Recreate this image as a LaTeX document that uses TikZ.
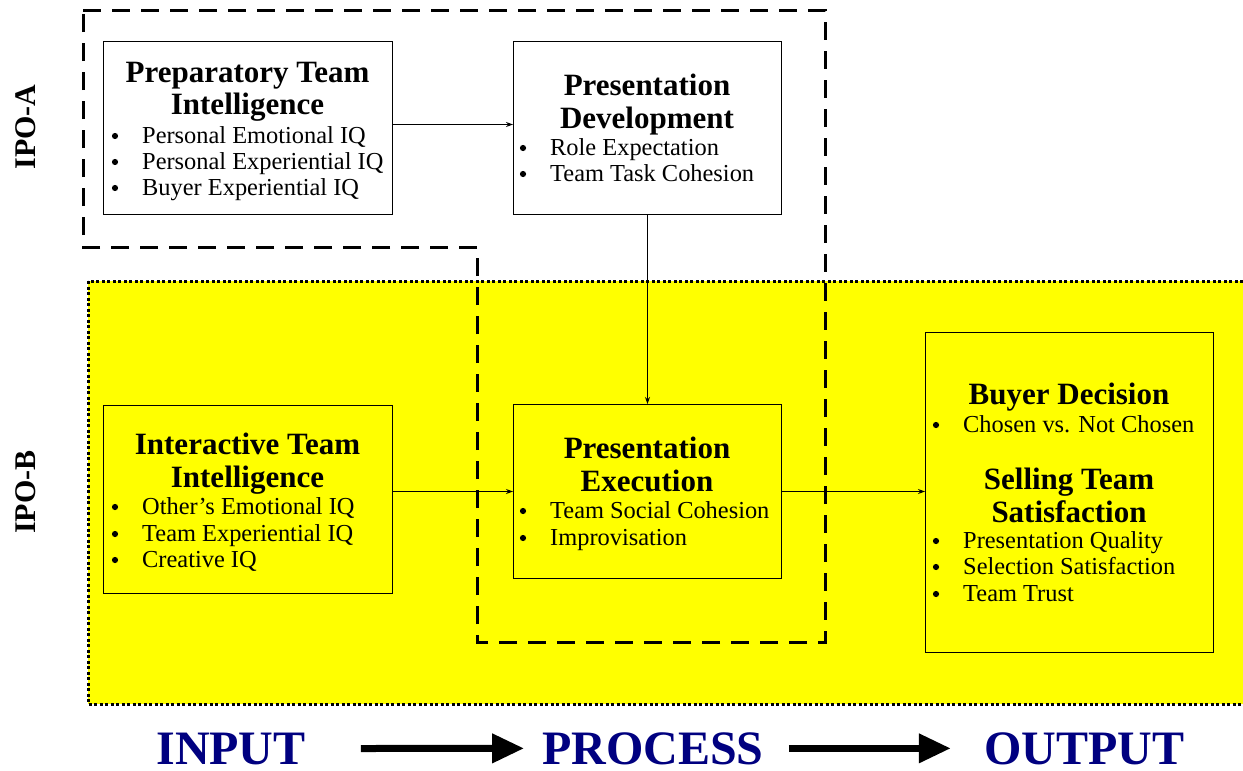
\documentclass[tikz,border=0pt]{standalone}
\usepackage{fontspec}
\setmainfont{Liberation Serif}
\usetikzlibrary{arrows.meta}
\definecolor{ipoNavy}{RGB}{0,0,128}
\definecolor{ipoYellow}{RGB}{255,255,0}
\newcommand\myitem[4]{% name, bullet x, baseline y, text
  \fill (#2,#3-7) circle (3.1);
  \node[itemtxt] (#1) at (#2+27,#3) {#4};}
\begin{document}
\begin{tikzpicture}[x=1pt,y=-1pt,
  boxnode/.style={draw, line width=1pt, inner sep=0, anchor=north west, minimum width=#1},
  headtxt/.style={font=\fontsize{31}{33}\selectfont\bfseries, anchor=base, inner sep=0},
  itemtxt/.style={font=\fontsize{24.4}{26}\selectfont, anchor=base west, inner sep=0},
  conn/.style={line width=1pt, -{Stealth[length=7pt,width=5pt]}},
  bigarrow/.style={line width=7pt, -{Triangle[length=32pt,width=28pt]}},
  bigtxt/.style={font=\fontsize{48}{50}\selectfont\bfseries, text=ipoNavy, inner sep=0},
  sidetxt/.style={font=\fontsize{30}{32}\selectfont\bfseries, rotate=90, inner sep=0}
]
\useasboundingbox (0,0) rectangle (1243,771);
\fill[white] (0,0) rectangle (1243,771);

% IPO-B yellow region
\path[fill=ipoYellow, draw=black, line width=3pt, dash pattern=on 3pt off 2.5pt]
  (88,281) rectangle (1260,704);

% IPO-A dashed boundary
\draw[line width=3pt, dash pattern=on 18pt off 11pt]
  (83,10) -- (825,10) -- (825,642) -- (477,642) -- (477,247) -- (83,247) -- cycle;

% boxes
\node[boxnode=289pt, minimum height=173pt, fill=white] (pti) at (103,41) {};
\node[boxnode=268pt, minimum height=173pt, fill=white] (pd) at (513,41) {};
\node[boxnode=289pt, minimum height=188pt, fill=ipoYellow] (iti) at (103,405) {};
\node[boxnode=268pt, minimum height=174pt, fill=ipoYellow] (pe) at (513,404) {};
\node[boxnode=288pt, minimum height=320pt, fill=ipoYellow] (outbox) at (925,332) {};

% side labels
\node[sidetxt] (ipoa) at (26,127) {IPO-A};
\node[sidetxt] (ipob) at (26,492) {IPO-B};

% Preparatory Team Intelligence
\node[headtxt] (ptih1) at (247.5,82) {Preparatory Team};
\node[headtxt] (ptih2) at (247.5,114) {Intelligence};
\myitem{ptia}{115}{143}{Personal Emotional IQ}
\myitem{ptib}{115}{169}{Personal Experiential IQ}
\myitem{ptic}{115}{195}{Buyer Experiential IQ}

% Presentation Development
\node[headtxt] (pdh1) at (647,95) {Presentation};
\node[headtxt] (pdh2) at (647,128) {Development};
\myitem{pda}{523}{155}{Role Expectation}
\myitem{pdb}{523}{181}{Team Task Cohesion}

% Interactive Team Intelligence
\node[headtxt] (itih1) at (247.5,454) {Interactive Team};
\node[headtxt] (itih2) at (247.5,487) {Intelligence};
\myitem{itia}{115}{514}{Other’s Emotional IQ}
\myitem{itib}{115}{541}{Team Experiential IQ}
\myitem{itic}{115}{567}{Creative IQ}

% Presentation Execution
\node[headtxt] (peh1) at (647,458) {Presentation};
\node[headtxt] (peh2) at (647,491) {Execution};
\myitem{pea}{523}{518}{Team Social Cohesion}
\myitem{peb}{523}{545}{Improvisation}

% Output box
\node[headtxt] (outh1) at (1069,404) {Buyer Decision};
\myitem{outa}{936}{432}{Chosen vs. Not Chosen}
\node[headtxt] (outh2) at (1069,489) {Selling Team};
\node[headtxt] (outh3) at (1069,522) {Satisfaction};
\myitem{outb}{936}{548}{Presentation Quality}
\myitem{outc}{936}{574}{Selection Satisfaction}
\myitem{outd}{936}{601}{Team Trust}

% connectors
\draw[conn] ([yshift=3.5pt]pti.east) -- ([yshift=3.5pt]pd.west);
\draw[conn] (pd.south) -- (pe.north);
\draw[conn] (iti.east |- pe.west) -- (pe.west);
\draw[conn] (pe.east) -- (outbox.west |- pe.east);

% bottom labels
\node[bigtxt, anchor=base] (inp) at (231,764) {INPUT};
\node[bigtxt, anchor=base] (proc) at (653,764) {PROCESS};
\node[bigtxt, anchor=base] (outp) at (1084,764) {OUTPUT};
\draw[bigarrow] ([xshift=55pt]inp.east) -- ([xshift=-18pt]proc.west);
\draw[bigarrow] ([xshift=25pt]proc.east) -- ([xshift=-33pt]outp.west);
\end{tikzpicture}
\end{document}
